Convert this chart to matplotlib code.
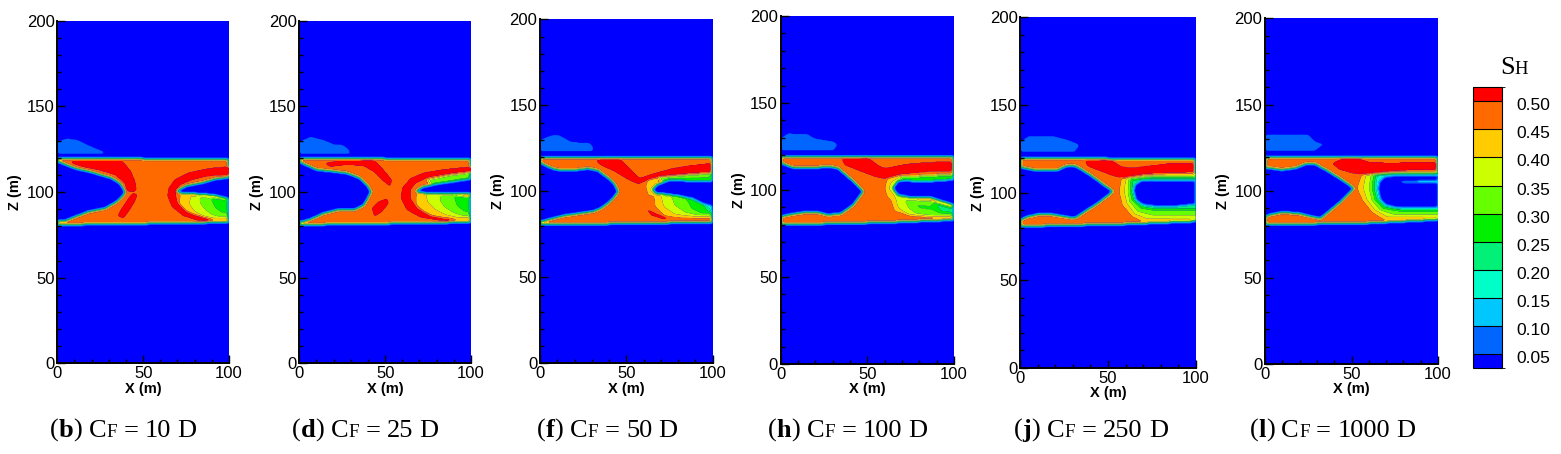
import numpy as np
import matplotlib
matplotlib.use("Agg")
import matplotlib.pyplot as plt
from matplotlib.path import Path
from matplotlib.colors import ListedColormap, BoundaryNorm
from matplotlib.cm import ScalarMappable
from matplotlib.ticker import MultipleLocator
from matplotlib.transforms import ScaledTranslation

# ---------------- legend / colour scale ----------------
LEVELS = [-1.0, 0.05, 0.10, 0.15, 0.20, 0.25, 0.30, 0.35, 0.40, 0.45, 0.50, 2.0]
COLORS = ['#0000ff', '#0066ff', '#00c8ff', '#00ffc8', '#00f078', '#00f000',
          '#66ff00', '#ccff00', '#ffcc00', '#ff6a00', '#ff0000']
CB_BOUNDS = [0.025, 0.05, 0.10, 0.15, 0.20, 0.25, 0.30, 0.35, 0.40, 0.45, 0.50, 0.525]
CB_TICKS = [0.05, 0.10, 0.15, 0.20, 0.25, 0.30, 0.35, 0.40, 0.45, 0.50]

CAPTION_LETTERS = ['b', 'd', 'f', 'h', 'j', 'l']
CAPTION_VALUES = ['10', '25', '50', '100', '250', '1000']

# saturation assigned to each kind of region
S_BACKGROUND = 0.0
S_PATCH = 0.09
S_LAYER = 0.47
S_RED = 0.53

# ---------------- panel (b) CF = 10 D ----------------
LAYER_B = [(0, 119.8), (50, 119.5), (100, 119.0), (100, 82.2), (60, 81.6), (0, 80.8)]
PATCH_B = [(0, 122.2), (0, 129.4), (5.4, 131.3), (12.2, 130.4), (18, 127.4), (23.9, 124.9), (27.4, 123.6), (27.4, 122.2)]
VOIDL_B = [(0, 117.8), (10.3, 113.8), (21.9, 110.9), (31.7, 108), (36.5, 105), (39.4, 100.2), (38.4, 98.3), (34.6, 94.4),
           (27.8, 90.5), (18, 88.5), (10.3, 85.6), (4.5, 83.2), (0, 83)]
VOIDR_B = [(69.5, 100.6), (75, 103.5), (85, 105.5), (92, 107.5), (100, 108.5), (100, 96), (92, 98), (85, 98.8), (77, 99.2), (72, 99.5)]
REDA_B = [(8.3, 118.3), (37.5, 118.5), (42.3, 113), (45.2, 107), (46.2, 101.2), (45, 100.2), (40.3, 100.6), (39.4, 105),
          (33.6, 110), (23.9, 112.9), (14.2, 114.8), (8.3, 116.8)]
REDB_B = [(43.7, 99.2), (46.8, 98.8), (45.2, 94.4), (41.4, 88.5), (38.5, 84.6), (35.1, 86), (37.5, 90.5), (41.4, 96.3)]
REDC_B = [(100, 114.8), (88, 113.8), (76.3, 111.3), (68.5, 107.4), (64.7, 102.2), (64.3, 97.3), (66.6, 91.5), (73.4, 86),
          (82.1, 83.3), (89.9, 82.6), (89.9, 84.1), (80.2, 86.6), (75.3, 88.5), (70.1, 93.4), (68.9, 98.3), (69.5, 101.2),
          (71.5, 104.1), (78.3, 107), (88, 109.4), (100, 109.9)]
PLUME_B1 = [(72, 98.5), (85, 97.5), (100, 95), (100, 84), (88, 84), (80, 86.5), (75, 89), (71, 93)]
PLUME_B2 = [(78, 98), (88, 97), (100, 95), (100, 85), (92, 84.5), (85, 86), (80, 89), (77, 93)]
PLUME_B3 = [(83, 97.5), (92, 96.5), (100, 95), (100, 86), (95, 85.5), (90, 87), (86, 90), (83, 94)]
PLUME_B4 = [(89, 97), (100, 95.5), (100, 88), (96, 88), (92, 91)]

# ---------------- panel (d) CF = 25 D ----------------
LAYER_D = [(0, 119.7), (50, 119.5), (100, 119.2), (100, 82.2), (60, 81.6), (0, 80.8)]
PATCH_D = [(0, 122.2), (0, 129.4), (6.4, 132.3), (14.2, 130.4), (20, 128), (25.8, 127.4), (28.7, 124.9), (29.7, 122.8), (29.7, 122.2)]
VOIDL_D = [(0, 117.5), (10.3, 112.9), (20, 111.9), (27.8, 110.9), (35.5, 108), (39.4, 104.1), (41.7, 100.2), (40.4, 97.3),
           (37.5, 92.4), (32.6, 89.9), (21.9, 89.5), (14.2, 87.6), (6.4, 84.1), (1.6, 82.6), (0, 82.6)]
VOIDR_D = [(67.6, 100.2), (72, 103), (80, 104.5), (90, 106), (100, 107.5), (100, 99), (92, 99), (82, 99), (74, 99.3)]
REDA_D = [(14.2, 116.7), (22, 118.1), (43.3, 118.7), (49.1, 112.9), (54, 107), (53, 103.1), (48.2, 107), (43.3, 111.9),
          (37.5, 115.2), (27.8, 115.8), (18.1, 114.8)]
REDB_D = [(42.3, 90.5), (46.2, 94.4), (51.1, 96.3), (52.1, 93.4), (48.2, 88.5), (43.7, 85.6)]
REDC_D = [(100, 114.8), (84.1, 113.2), (72.4, 111.3), (64.7, 108), (59.8, 102.2), (59.2, 96.3), (62.7, 89.5), (70.5, 85.2),
          (82.1, 83.3), (89.9, 82.6), (89.9, 84.1), (76.3, 86), (68.5, 90.5), (64.7, 96.3), (64.7, 101.2), (67.6, 105.1),
          (75.3, 108.6), (88, 110.5), (100, 111.9)]
UPPER_D = [(74, 107), (88, 110), (100, 111.5), (100, 106), (90, 105), (78, 104)]
PLUME_D1 = [(68, 98.5), (85, 98), (100, 97), (100, 84), (88, 84), (78, 86), (72, 89), (68, 93)]
PLUME_D2 = [(74, 98.5), (88, 98), (100, 97), (100, 85), (93, 85), (85, 87), (79, 90), (75, 94)]
PLUME_D3 = [(82, 98.5), (92, 98), (100, 97), (100, 86), (96, 86), (90, 88), (85, 91), (82, 95)]
PLUME_D4 = [(90, 98), (100, 97), (100, 88), (96, 89), (92, 92)]

# ---------------- panel (f) CF = 50 D ----------------
LAYER_F = [(0, 119.8), (50, 119.7), (100, 119.5), (100, 82.0), (60, 81.2), (0, 80.6)]
PATCH_F = [(0, 123.2), (0, 130), (6.6, 132.5), (11.4, 132.5), (14.3, 131), (18.1, 128.7), (28.8, 128.1), (30.7, 126.1), (30.7, 123.2)]
VOIDL_F = [(0, 116.5), (8.5, 112.6), (18.1, 112), (27.8, 113.2), (33.6, 112), (39.4, 107.7), (43.2, 103.9), (45.2, 100),
           (43.2, 97.1), (39.4, 93.2), (35.5, 90.3), (30.7, 88.3), (24, 87.4), (14.3, 86), (6.6, 84.1), (1.2, 82.6), (0, 82.6)]
VOIDR_F = [(65.4, 101), (68, 104), (74, 106), (84, 106), (92, 105.5), (100, 105.5), (100, 91.5), (94, 93), (88, 96),
           (80, 97.5), (72, 98.5), (67, 99)]
REDA_F = [(31.7, 118.4), (46.1, 119), (52.9, 112.6), (57.7, 107.7), (64.5, 110), (76.1, 113.2), (87.6, 115.1), (100, 116.5),
          (100, 111.2), (85.7, 110), (70.3, 108.5), (62.5, 106.6), (56.8, 104.2), (51, 106.8), (43.2, 111.6), (34.5, 115.5)]
REDB_F = [(60.6, 90.3), (64.5, 86), (72.2, 83.5), (76.1, 83.5), (66.4, 87.4)]
RIM_F = [(61.5, 103), (63, 107), (68, 108.5), (68, 97), (63, 98)]
UPPER_F = [(68, 108), (85, 109.5), (100, 110.5), (100, 105), (85, 105), (72, 105)]
PLUME_F1 = [(66, 99), (80, 97.5), (100, 94), (100, 84.5), (85, 84.5), (72, 86), (67, 91)]
PLUME_F2 = [(70, 98.5), (82, 97), (100, 94), (100, 85), (88, 85.5), (78, 87), (72, 91)]
PLUME_F3 = [(76, 98), (86, 96.5), (100, 94), (100, 86), (92, 86), (84, 88), (78, 92)]
PLUME_F4 = [(84, 97), (100, 94), (100, 87), (94, 87), (88, 90)]
PLUME_F5 = [(94, 94.5), (100, 94), (100, 88), (97, 89)]

# ---------------- panel (h) CF = 100 D ----------------
LAYER_H = [(0, 119.5), (50, 119.3), (100, 119.0), (100, 82.8), (60, 81.2), (0, 80.0)]
PATCH_H = [(0, 122.5), (0, 129.7), (4.2, 132.6), (15.8, 132), (19.6, 129.7), (31.1, 127.8), (33, 125.9), (30.2, 122.5)]
VOIDL_H = [(0, 115.4), (8.1, 112.5), (17.7, 112.5), (27.3, 113.5), (33, 112.5), (39.8, 106.7), (44.6, 102), (47.5, 99.1),
           (44.6, 95.3), (41.7, 91.4), (35, 86.6), (27.3, 85.7), (21.5, 87.2), (13.8, 87.2), (6.1, 86.1), (0, 84.7)]
VOIDR_H = [(64.8, 101), (67.7, 105.2), (75.4, 105), (85, 104.8), (100, 105.8), (100, 91.4), (86.9, 95.6), (75.4, 95.6), (67.7, 97.2)]
REDA_H = [(35, 118.2), (50.4, 118.6), (56.1, 114.4), (60, 112.5), (71.5, 114.8), (85, 115.9), (100, 116.3), (100, 111),
          (85, 110.6), (69.6, 109), (60, 106.4), (54.2, 107.7), (46.5, 110.6), (36.9, 114.4)]
RIM_H = [(60.5, 101), (62, 106.5), (68, 108), (72, 106), (72, 94), (67, 93), (62, 96)]
UPPER_H = [(68, 107.5), (80, 108), (100, 109), (100, 105), (85, 104.5), (72, 104.5)]
PLUME_H1 = [(62, 99), (66, 96), (75, 94.5), (87, 94), (100, 90), (100, 84), (88, 84.5), (75, 85.5), (66, 88)]
PLUME_H2 = [(66, 97), (75, 94), (87, 93.5), (100, 90), (100, 84.5), (85, 84.8), (74, 85.8), (68, 90)]
PLUME_H3 = [(72, 94.5), (87, 93.5), (100, 90), (100, 85.5), (88, 85.5), (78, 87), (74, 90)]
PLUME_H4 = [(88, 93), (100, 90), (100, 86.5), (92, 87.5)]

# ---------------- panel (j) CF = 250 D ----------------
LAYER_J = [(0, 119.8), (50, 119.5), (100, 119.2), (100, 83.6), (60, 82), (0, 80.7)]
PATCH_J = [(0, 123.1), (0, 129.2), (4.4, 132), (19.6, 132), (27.2, 130.1), (33.9, 127.3), (31, 123.1)]
VOIDL_J = [(0, 114.4), (10.1, 112.5), (21.5, 113), (27.2, 115.5), (32, 114.9), (39.6, 110.2), (46.2, 105.4), (52.9, 100.7),
           (49.1, 97.8), (44.3, 94), (36.7, 89.3), (31, 85.5), (25.3, 86.4), (17.7, 87.7), (10.1, 87.7), (4.4, 86.4), (0, 84.5)]
VOIDR_J = [(64.8, 101), (65.5, 104.5), (68.5, 106.5), (75, 107), (85, 106.8), (100, 107), (100, 93.5), (88, 92.3),
           (78, 92.2), (70, 93.2), (66, 96)]
REDA_J = [(36.7, 118.2), (51.9, 118.7), (57.6, 114.9), (63.3, 114), (74.7, 115.5), (86.1, 116.8), (100, 116.8), (100, 111.7),
          (84.2, 111.1), (70.9, 110.2), (59.5, 108.3), (53.8, 109.2), (46.2, 112.1), (38.6, 114.9)]
RIM_J1 = [(58, 109), (56.5, 100.7), (58.5, 93), (64, 86.5), (70, 83.8), (100, 83.8), (100, 110.5), (70, 110.5)]
RIM_J2 = [(60.5, 108.5), (59.5, 100.5), (61, 94), (65.5, 88), (72, 85.5), (100, 85), (100, 110), (70, 109.5)]
RIM_J3 = [(62, 108), (61.5, 100.5), (62.5, 95), (67, 89.5), (75, 87.5), (100, 87), (100, 109.5), (70, 109)]
RIM_J4 = [(63.3, 107.5), (63, 100.5), (64, 96), (69, 91.5), (78, 90), (100, 90), (100, 109), (75, 108.5)]

# ---------------- panel (l) CF = 1000 D ----------------
LAYER_L = [(0, 120), (50, 119.8), (100, 119.5), (100, 83.4), (60, 81.5), (0, 80.5)]
PATCH_L = [(0, 123.3), (0, 132.5), (25.2, 132.5), (29.1, 128.7), (32, 127.7), (34.9, 127.1), (32, 125.8), (29.1, 123.3)]
VOIDL_L = [(0, 113.6), (9.8, 112.3), (17.5, 113.3), (23.3, 115.6), (29.1, 115.6), (36.8, 111.3), (44.5, 106.5), (51.3, 101.7),
           (47.4, 97.8), (42.6, 93), (36.8, 88.2), (32, 84.4), (27.2, 85.3), (19.5, 87.2), (9.8, 87.8), (4, 86.7), (0, 85.3)]
VOIDR_L = [(65.8, 101.5), (66.5, 105.5), (69.5, 108), (76, 108.8), (88, 108.8), (100, 109), (100, 91), (88, 90.5),
           (76, 90.7), (70, 92.3), (67, 95.5)]
REDA_L = [(38.7, 116), (44.5, 119), (54.1, 119), (59.9, 117), (71.5, 116.3), (85, 116.7), (100, 116.7), (100, 112.3),
          (85, 112.3), (75.4, 111.3), (65, 110.3), (57, 109.5), (50, 110.5), (43, 112.5)]
RIM_L1 = [(56, 109.5), (53.5, 101.7), (56.5, 95), (62, 88), (69, 83.6), (100, 83.6), (100, 111), (68, 111)]
RIM_L2 = [(58.5, 109.5), (57, 101.7), (59, 95.5), (63.5, 89.5), (71, 85.2), (100, 85), (100, 110.8), (68, 110.5)]
RIM_L3 = [(61.5, 109.5), (60.5, 101.7), (62, 95), (66.5, 89.5), (74, 87), (100, 86.5), (100, 110.5), (70, 110.3)]
RIM_L4 = [(63.3, 109.3), (62.5, 101.7), (64, 95.5), (68.5, 90.5), (78, 89), (100, 88.5), (100, 110.3), (72, 110)]
RIM_L5 = [(64.8, 109), (64, 101.7), (65.5, 96), (70, 91.5), (80, 89.8), (100, 89.5), (100, 110), (75, 109.8)]
SPUR_L = [(77, 105.6), (88, 106), (100, 106), (100, 104.9), (88, 104.8), (80, 104.9)]

# order of painting per panel: layer, graded zones, voids, red, late details
PANELS = [
    dict(layer=LAYER_B, patch=PATCH_B,
         graded=[(0.42, PLUME_B1), (0.37, PLUME_B2), (0.32, PLUME_B3), (0.27, PLUME_B4)],
         voids=[VOIDL_B, VOIDR_B], red=[REDA_B, REDB_B, REDC_B], late=[]),
    dict(layer=LAYER_D, patch=PATCH_D,
         graded=[(0.32, UPPER_D), (0.42, PLUME_D1), (0.37, PLUME_D2), (0.32, PLUME_D3), (0.27, PLUME_D4)],
         voids=[VOIDL_D, VOIDR_D], red=[REDA_D, REDB_D, REDC_D], late=[]),
    dict(layer=LAYER_F, patch=PATCH_F,
         graded=[(0.41, RIM_F), (0.30, UPPER_F), (0.42, PLUME_F1), (0.37, PLUME_F2), (0.32, PLUME_F3),
                 (0.27, PLUME_F4), (0.20, PLUME_F5)],
         voids=[VOIDL_F, VOIDR_F], red=[REDA_F, REDB_F], late=[]),
    dict(layer=LAYER_H, patch=PATCH_H,
         graded=[(0.40, RIM_H), (0.28, UPPER_H), (0.42, PLUME_H1), (0.37, PLUME_H2), (0.30, PLUME_H3), (0.24, PLUME_H4)],
         voids=[VOIDL_H, VOIDR_H], red=[REDA_H], late=[]),
    dict(layer=LAYER_J, patch=PATCH_J,
         graded=[(0.42, RIM_J1), (0.37, RIM_J2), (0.32, RIM_J3), (0.24, RIM_J4)],
         voids=[VOIDL_J, VOIDR_J], red=[REDA_J], late=[]),
    dict(layer=LAYER_L, patch=PATCH_L,
         graded=[(0.42, RIM_L1), (0.37, RIM_L2), (0.31, RIM_L3), (0.24, RIM_L4), (0.16, RIM_L5)],
         voids=[VOIDL_L, VOIDR_L], red=[REDA_L], late=[(0.17, SPUR_L)]),
]

# ---------------- layout (pixels in 1561 x 454 figure) ----------------
W, H = 1561, 454
AX_PX = [(57.3, 229.0, 20.7, 363.3), (299.3, 471.0, 20.7, 363.3), (540.0, 712.7, 19.3, 363.3),
         (780.7, 954.0, 16.0, 364.0), (1020.3, 1195.7, 17.3, 368.0), (1265.0, 1438.0, 18.3, 364.0)]
CAP_X = [50, 292, 537, 768, 1014, 1250]
CAP_BASE = 437
CB_PX = (1473.3, 1502.3, 87.3, 368.0)

# ---------------- field construction ----------------
XN = np.linspace(0, 100, 201)
ZN = np.linspace(0, 200, 401)
XG, ZG = np.meshgrid(XN, ZN)
PTS = np.column_stack([XG.ravel(), ZG.ravel()])


def mask(poly):
    return Path(np.asarray(poly, float)).contains_points(PTS).reshape(XG.shape)


def smooth(a, sigma):
    r = int(3 * sigma) + 1
    k = np.exp(-0.5 * (np.arange(-r, r + 1) / sigma) ** 2)
    k /= k.sum()
    p = np.pad(a, r, mode='edge')
    t = np.apply_along_axis(lambda m: np.convolve(m, k, mode='valid'), 1, p)
    return np.apply_along_axis(lambda m: np.convolve(m, k, mode='valid'), 0, t)


def build(pan):
    s = np.full(XG.shape, S_BACKGROUND)
    s[mask(pan['patch'])] = S_PATCH
    s[mask(pan['layer'])] = S_LAYER
    for v, poly in pan['graded']:
        s[mask(poly)] = v
    for poly in pan['voids']:
        s[mask(poly)] = S_BACKGROUND
    for poly in pan['red']:
        s[mask(poly)] = S_RED
    for v, poly in pan['late']:
        s[mask(poly)] = v
    return smooth(s, 1.4)


fig = plt.figure(figsize=(W / 100, H / 100), dpi=100)
renderer = fig.canvas.get_renderer()
SANS = 'Liberation Sans'
SERIF = 'Liberation Serif'

for i, pan in enumerate(PANELS):
    l, r, t, b = AX_PX[i]
    ax = fig.add_axes([l / W, 1 - b / H, (r - l) / W, (b - t) / H])
    ax.set_facecolor(COLORS[0])
    ax.contourf(XN, ZN, build(pan), levels=LEVELS, colors=COLORS, antialiased=True)
    ax.set_xlim(0, 100)
    ax.set_ylim(0, 200)
    ax.set_xticks([0, 50, 100])
    ax.set_yticks([0, 50, 100, 150, 200])
    ax.xaxis.set_minor_locator(MultipleLocator(10))
    ax.yaxis.set_minor_locator(MultipleLocator(10))
    ax.tick_params(which='both', direction='in', top=False, right=False, width=1.0, color='black')
    ax.tick_params(which='major', length=5.5, labelsize=12, pad=2)
    ax.tick_params(which='minor', length=3.2)
    for lab in ax.get_xticklabels() + ax.get_yticklabels():
        lab.set_fontfamily(SANS)
    for sp in ['top', 'right']:
        ax.spines[sp].set_visible(False)
    for sp in ['left', 'bottom']:
        ax.spines[sp].set_linewidth(1.4)
    ax.text(0.5, -25.5 / (b - t), 'X (m)', transform=ax.transAxes, ha='center', va='center',
            fontsize=10.5, fontweight='bold', family=SANS)
    ax.text(-42 / (r - l), 0.5, 'Z (m)', transform=ax.transAxes, ha='center', va='center', rotation=90,
            fontsize=10.5, fontweight='bold', family=SANS)


def rich(x0, ybase, parts):
    x = x0
    for s, fs, wt, gap in parts:
        x += gap
        tx = fig.text(x / W, 1 - ybase / H, s, fontsize=fs, fontweight=wt, family=SERIF, ha='left', va='baseline')
        x = tx.get_window_extent(renderer).x1


FS = 19
for i in range(6):
    rich(CAP_X[i], CAP_BASE, [('(', FS, 'normal', 0), (CAPTION_LETTERS[i], FS, 'bold', 0), (')', FS, 'normal', 0),
                              ('C', FS, 'normal', 6.5), ('F', FS * 0.72, 'normal', 0), ('=', FS, 'normal', 6.5),
                              (CAPTION_VALUES[i], FS, 'normal', 6.5), ('D', FS, 'normal', 6.5)])

# ---------------- colour bar ----------------
l, r, t, b = CB_PX
cax = fig.add_axes([l / W, 1 - b / H, (r - l) / W, (b - t) / H])
cmap = ListedColormap(COLORS)
norm = BoundaryNorm(CB_BOUNDS, len(COLORS))
cb = fig.colorbar(ScalarMappable(norm=norm, cmap=cmap), cax=cax, boundaries=CB_BOUNDS, spacing='proportional',
                  ticks=CB_TICKS, drawedges=True)
cb.outline.set_linewidth(0.8)
cb.dividers.set_linewidth(0.8)
cb.dividers.set_color('black')
cax.tick_params(length=0, pad=10, labelsize=12.5)
cax.set_yticklabels(['%.2f' % v for v in CB_TICKS])
off = ScaledTranslation(0, -3 / 100, fig.dpi_scale_trans)
for lab in cax.get_yticklabels():
    lab.set_fontfamily(SANS)
    lab.set_transform(lab.get_transform() + off)

rich(1500, 73.5, [('S', 19, 'normal', 0), ('H', 13.5, 'normal', 0)])

fig.savefig('out.png', dpi=100)
